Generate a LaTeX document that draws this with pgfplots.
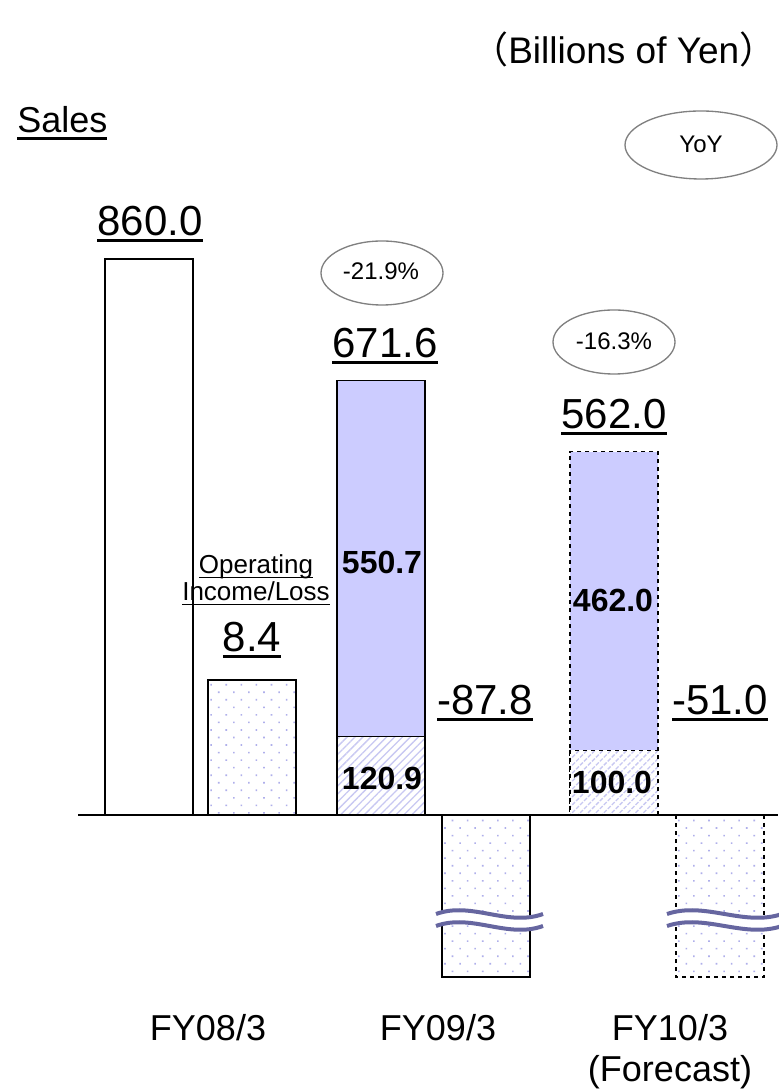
\documentclass[border=0pt]{standalone}
\usepackage{fontspec}
\setmainfont{Liberation Sans}
\newfontfamily\cjk{Noto Sans CJK JP}
\usepackage{pgfplots}
\pgfplotsset{compat=1.18}
\usetikzlibrary{patterns.meta}
\definecolor{barblue}{RGB}{204,204,255}
\definecolor{patcol}{RGB}{175,175,235}
\definecolor{hatchcol}{RGB}{200,200,242}
\definecolor{wavecol}{RGB}{102,102,160}
\definecolor{ellgray}{RGB}{128,128,128}
\newcommand\fs[1]{\fontsize{#1pt}{#1pt}\selectfont}
\newcommand\ul[3]{\setbox0\hbox{#1}\rlap{\copy0}\rule[#2]{\wd0}{#3}}
\begin{document}
\begin{tikzpicture}
\useasboundingbox (0,0) rectangle (583.5pt,819pt);
% ---------------- Sales (to scale) ----------------
\begin{axis}[at={(0,0)}, anchor=south west, scale only axis,
  width=583.5pt, height=819pt, xmin=0, xmax=778,
  ymin=-428.5, ymax=1260.6, hide axis, clip=false]
\addplot[ybar, bar width=88, bar shift=0pt, fill=white, draw=black, line width=1pt]
  coordinates {(149,860.0)};
\addplot[ybar, bar width=88, bar shift=0pt, fill=barblue, draw=black, line width=1pt]
  coordinates {(381,671.6)};
\addplot[ybar, bar width=88, bar shift=0pt, fill=barblue, draw=black, line width=1pt,
  dash pattern=on 3pt off 3pt]
  coordinates {(614,562.0)};
\addplot[ybar, bar width=88, bar shift=0pt, draw=black, line width=1pt,
  preaction={fill=white},
  pattern={Lines[angle=45,distance=4.2pt,line width=1pt]}, pattern color=hatchcol]
  coordinates {(381,120.9)};
\addplot[ybar, bar width=88, bar shift=0pt, draw=black, line width=1pt,
  dash pattern=on 3pt off 3pt, preaction={fill=white},
  pattern={Lines[angle=45,distance=4.2pt,line width=1pt]}, pattern color=hatchcol]
  coordinates {(614,100.0)};
\end{axis}
% ---------------- Operating income/loss (broken scale) ----------------
\begin{axis}[at={(0,0)}, anchor=south west, scale only axis,
  width=583.5pt, height=819pt, xmin=0, xmax=778,
  ymin=-17.237, ymax=50.715, hide axis, clip=false,
  restrict y to domain*=-10.08:60]
\addplot[ybar, bar width=88, bar shift=0pt, draw=black, line width=1pt,
  preaction={fill=white},
  pattern={Dots[angle=45,distance=8pt,radius=0.85pt]}, pattern color=patcol]
  coordinates {(252,8.4) (486,-87.8)};
\addplot[ybar, bar width=88, bar shift=0pt, draw=black, line width=1pt,
  dash pattern=on 3pt off 3pt, preaction={fill=white},
  pattern={Dots[angle=45,distance=8pt,radius=0.85pt]}, pattern color=patcol]
  coordinates {(720,-51.0)};
\addplot[black, line width=1.4pt, sharp plot] coordinates {(78,0) (778,0)};
\end{axis}
% ---------------- annotations (pixel frame) ----------------
\begin{scope}[x=0.75pt, y=-0.75pt, shift={(0pt,819pt)}]
% break marks
\foreach \xa/\xb in {436/543, 667/782}{
  \pgfmathsetmacro\xc{\xa+(\xb-\xa)/3}
  \pgfmathsetmacro\xd{\xa+2*(\xb-\xa)/3}
  \draw[white, line width=9pt] (\xa,920) .. controls (\xc,907) and (\xd,933) .. (\xb,920);
  \draw[wavecol, line width=3pt] (\xa,914) .. controls (\xc,901) and (\xd,927) .. (\xb,914);
  \draw[wavecol, line width=3pt] (\xa,926) .. controls (\xc,913) and (\xd,939) .. (\xb,926);
}
% ellipses
\draw[ellgray, line width=1pt] (701,145) ellipse [x radius=76, y radius=34];
\draw[ellgray, line width=1pt] (382,273) ellipse [x radius=61, y radius=32];
\draw[ellgray, line width=1pt] (614,342) ellipse [x radius=61, y radius=32];
\node[anchor=base, font=\fs{18}] at (701,153) {YoY};
\node[anchor=base, font=\fs{18}] at (381,280) {-21.9\%};
\node[anchor=base, font=\fs{18}] at (614,350) {-16.3\%};
% titles
\node[anchor=base west, font=\fs{27.75}, inner sep=0pt] at (471,64) {{\cjk （}Billions of Yen{\cjk ）}};
\node[anchor=base west, font=\fs{27}, inner sep=0pt] at (17,133) {\ul{Sales}{-4.9pt}{1.6pt}};
% value labels
\node[anchor=base, font=\fs{31.5}, inner sep=0pt] at (150,236) {\ul{860.0}{-4.6pt}{2.2pt}};
\node[anchor=base, font=\fs{31.5}, inner sep=0pt] at (385,358) {\ul{671.6}{-4.6pt}{2.2pt}};
\node[anchor=base, font=\fs{31.5}, inner sep=0pt] at (614,429) {\ul{562.0}{-4.6pt}{2.2pt}};
\node[anchor=base, font=\fs{31.5}, inner sep=0pt] at (252,652) {\ul{8.4}{-4.6pt}{2.2pt}};
\node[anchor=base, font=\fs{31.5}, inner sep=0pt] at (485,715) {\ul{-87.8}{-4.6pt}{2.2pt}};
\node[anchor=base, font=\fs{31.5}, inner sep=0pt] at (720,715) {\ul{-51.0}{-4.6pt}{2.2pt}};
\node[anchor=base, font=\fs{19.5}, inner sep=0pt] at (256,574) {\ul{Operating}{-3.2pt}{1.1pt}};
\node[anchor=base, font=\fs{19.5}, inner sep=0pt] at (256,601) {\ul{Income/Loss}{-3.2pt}{1.1pt}};
% segment labels
\node[anchor=base, font=\fs{24}\bfseries, inner sep=0pt] at (382,574) {550.7};
\node[anchor=base, font=\fs{24}\bfseries, inner sep=0pt] at (382,790) {120.9};
\node[anchor=base, font=\fs{24}\bfseries, inner sep=0pt] at (613,612) {462.0};
\node[anchor=base, font=\fs{24}\bfseries, inner sep=0pt] at (612,794) {100.0};
% categories
\node[anchor=base, font=\fs{27}, inner sep=0pt] at (208,1041) {FY08/3};
\node[anchor=base, font=\fs{27}, inner sep=0pt] at (438,1041) {FY09/3};
\node[anchor=base, font=\fs{27}, inner sep=0pt] at (670,1041) {FY10/3};
\node[anchor=base, font=\fs{27}, inner sep=0pt] at (670,1081) {(Forecast)};
\end{scope}
\end{tikzpicture}
\end{document}
